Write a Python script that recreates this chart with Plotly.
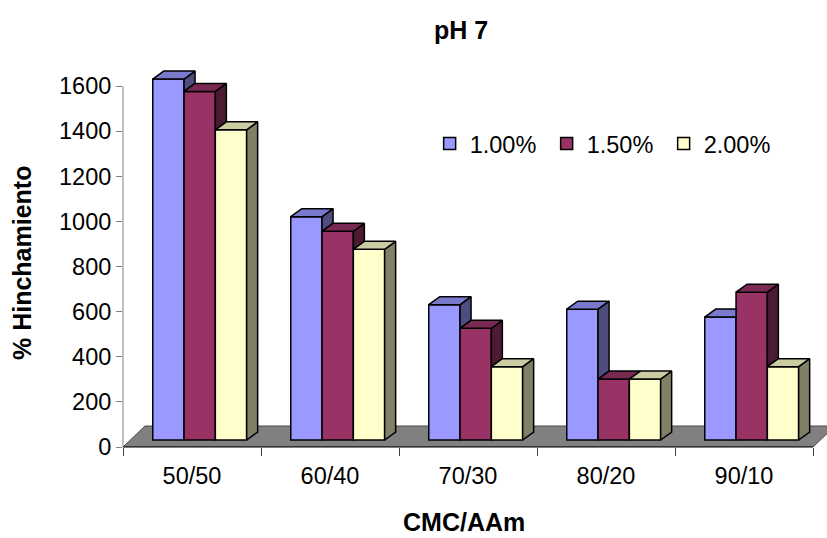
import plotly.graph_objects as go

# ---- data -------------------------------------------------------------
categories = ["50/50", "60/40", "70/30", "80/20", "90/10"]
series_names = ["1.00%", "1.50%", "2.00%"]
swelling_100 = [1600, 990, 600, 580, 545]
swelling_150 = [1545, 925, 495, 270, 655]
swelling_200 = [1375, 845, 325, 270, 325]
y_ticks = [0, 200, 400, 600, 800, 1000, 1200, 1400, 1600]

series = [swelling_100, swelling_150, swelling_200]

# ---- styling ----------------------------------------------------------
front_colors = ["#9999FF", "#993366", "#FFFFCC"]
top_colors = ["#7A7ACC", "#7A2952", "#CCCCA3"]
side_colors = ["#4D4D80", "#4D1A33", "#808066"]
FONT = "Liberation Sans, Arial, sans-serif"
FS = 23.5        # tick labels and legend
FS_TITLE = 25    # bold titles

# ---- page / projection geometry ----------------------------------------
W_PX, H_PX = 827, 538
M_L, M_R, M_T, M_B = 123, 0, 70, 91
PX_PER_X = 138.0      # pixels per category
PX_PER_Y = 0.2256     # pixels per value unit
X0 = -0.5
X1 = X0 + (W_PX - M_L - M_R) / PX_PER_X
Y1 = (H_PX - M_T - M_B) / PX_PER_Y

FLOOR_DX = 22 / PX_PER_X
FLOOR_DY = 21 / PX_PER_Y
BAR_OX = 7.7 / PX_PER_X      # bars sit part-way back on the floor
BAR_BASE = 7 / PX_PER_Y
BAR_W = 31.3 / PX_PER_X
DEPTH_DX = 11 / PX_PER_X     # apparent depth of each bar
DEPTH_DY = 8 / PX_PER_Y

xs = list(range(len(categories)))
n_cat = len(categories)

fig = go.Figure()

# front faces
for k, (name, vals) in enumerate(zip(series_names, series)):
    fig.add_trace(go.Bar(
        x=xs, y=vals, base=BAR_BASE, width=BAR_W,
        offset=-1.5 * BAR_W + BAR_OX + k * BAR_W,
        name=name,
        marker=dict(color=front_colors[k], line=dict(color="black", width=1.5)),
        hoverinfo="skip",
    ))


def add_poly(px, py, pts):
    for x, y in pts + [pts[0]]:
        px.append(x)
        py.append(y)
    px.append(None)
    py.append(None)


# side and top faces, trimmed where the neighbouring bar hides them
for k in range(len(series)):
    sx, sy, tx, ty = [], [], [], []
    for i in xs:
        left = i - 1.5 * BAR_W + BAR_OX + k * BAR_W
        right = left + BAR_W
        h1 = BAR_BASE + series[k][i]
        h2 = BAR_BASE + series[k + 1][i] if k + 1 < len(series) else BAR_BASE
        top_back = h1 + DEPTH_DY
        if h2 >= top_back:
            pts = [(left, h1), (right, h1), (right, top_back),
                   (left + DEPTH_DX, top_back)]
        elif h2 > h1:
            cx = right + DEPTH_DX * (h2 - h1) / DEPTH_DY
            pts = [(left, h1), (right, h1), (right, h2), (cx, h2),
                   (right + DEPTH_DX, top_back), (left + DEPTH_DX, top_back)]
        else:
            pts = [(left, h1), (right, h1), (right + DEPTH_DX, top_back),
                   (left + DEPTH_DX, top_back)]
        add_poly(tx, ty, pts)
        if h1 > h2:
            add_poly(sx, sy, [(right, h2), (right + DEPTH_DX, h2 + DEPTH_DY),
                              (right + DEPTH_DX, top_back), (right, h1)])
    if sx:
        fig.add_trace(go.Scatter(
            x=sx, y=sy, mode="lines", fill="toself", fillcolor=side_colors[k],
            line=dict(color="black", width=1.5), showlegend=False, hoverinfo="skip"))
    fig.add_trace(go.Scatter(
        x=tx, y=ty, mode="lines", fill="toself", fillcolor=top_colors[k],
        line=dict(color="black", width=1.5), showlegend=False, hoverinfo="skip"))

# floor
floor_path = (f"M {X0},0 L {X0 + n_cat},0 L {X0 + n_cat + FLOOR_DX},{FLOOR_DY} "
              f"L {X0 + FLOOR_DX},{FLOOR_DY} Z")
shapes = [
    dict(type="path", path=floor_path, xref="x", yref="y", layer="below",
         fillcolor="#808080", line=dict(color="#4a4a4a", width=1)),
    # value axis line, ending at the top tick
    dict(type="line", xref="paper", yref="y", x0=0, x1=0, y0=0, y1=y_ticks[-1],
         line=dict(color="#808080", width=1), layer="above"),
    # category axis line along the front edge of the floor
    dict(type="line", xref="x", yref="paper", x0=X0, x1=X0 + n_cat, y0=0, y1=0,
         line=dict(color="black", width=1.2), layer="above"),
]

PLOT_W = W_PX - M_L - M_R
PLOT_H = H_PX - M_T - M_B

fig.update_layout(
    width=W_PX, height=H_PX,
    margin=dict(l=M_L, r=M_R, t=M_T, b=M_B, pad=0),
    paper_bgcolor="white", plot_bgcolor="white",
    barmode="overlay",
    font=dict(family=FONT, size=FS, color="black"),
    showlegend=True,
    legend=dict(orientation="h", x=0.41 + 18 / PLOT_W, y=0.86 - 21 / PLOT_H,
                xanchor="left", yanchor="middle",
                font=dict(size=FS), bgcolor="rgba(0,0,0,0)",
                entrywidth=72, entrywidthmode="pixels", traceorder="normal"),
    title=dict(text="<b>pH 7</b>", x=461 / W_PX, xref="container", xanchor="center",
               y=1 - 30 / H_PX, yref="container", yanchor="middle",
               font=dict(size=FS_TITLE, family=FONT)),
    xaxis=dict(range=[X0, X1], showgrid=False, zeroline=False, showline=False,
               tickmode="array", tickvals=xs, ticktext=categories,
               ticks="outside", ticklen=8, tickcolor="rgba(0,0,0,0)",
               minor=dict(tickmode="array", tickvals=[X0 + j for j in range(n_cat + 1)],
                          ticks="outside", ticklen=8, tickcolor="#404040", tickwidth=1),
               fixedrange=True),
    yaxis=dict(range=[0, Y1], showgrid=False, zeroline=False, showline=False,
               tickmode="array", tickvals=y_ticks, ticks="outside", ticklen=6,
               tickcolor="#808080", fixedrange=True),
    shapes=shapes,
    annotations=[
        dict(text="<b>% Hinchamiento</b>", xref="paper", yref="paper",
             x=(22 - M_L) / PLOT_W, y=(447 - 263) / PLOT_H,
             textangle=-90, showarrow=False, xanchor="center", yanchor="middle",
             font=dict(size=FS_TITLE)),
        dict(text="<b>CMC/AAm</b>", xref="paper", yref="paper",
             x=(464 - M_L) / PLOT_W, y=(447 - 522) / PLOT_H,
             showarrow=False, xanchor="center", yanchor="middle",
             font=dict(size=FS_TITLE)),
    ],
)

fig.write_html("out.html")
